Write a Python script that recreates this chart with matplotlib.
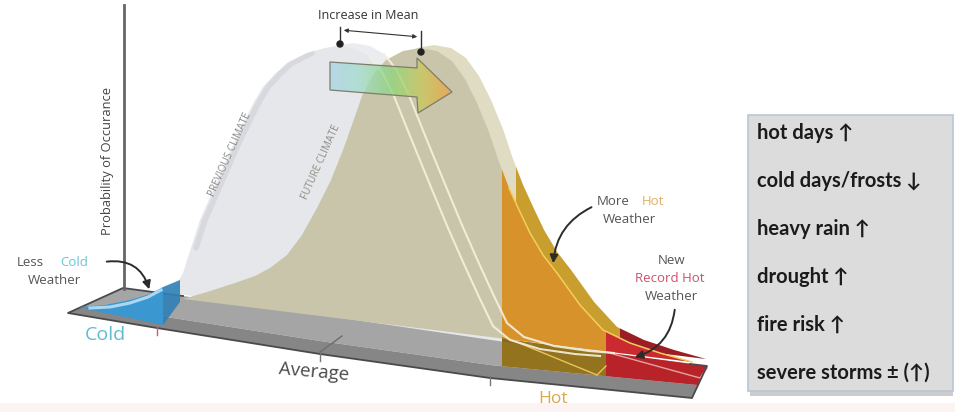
import numpy as np
import matplotlib
matplotlib.use("Agg")
from matplotlib import pyplot as plt
from matplotlib.patches import Polygon, Rectangle, FancyArrowPatch, Circle
from matplotlib.colors import LinearSegmentedColormap

W, H = 955, 412

# ---- outlines (pixel coords, x right / y down) ----
# previous climate, front edge of the bell
PREV_X = [165, 175, 183, 191, 200, 211, 222, 233, 245, 254, 263, 275, 287, 307, 325, 340,
          356, 370, 382, 394, 406, 419, 433, 448, 463, 479, 493, 510, 540, 575, 600]
PREV_Y = [292, 287, 273, 248, 220, 195, 170, 145, 120, 102, 87, 74, 63, 53, 48, 46,
          49, 57, 72, 96, 126, 158, 192, 228, 262, 297, 326, 340, 349, 354, 356]
PREV_PEAK = 16          # index where the right-hand (visible) edge starts

# future climate, front edge of the bell
FUT_X = [183, 207, 235, 255, 270, 287, 302, 317, 331, 343, 353, 362, 373, 386, 403, 420,
         437, 452, 465, 477, 489, 499, 509, 520, 530, 543, 557, 580, 603, 630, 660, 692]
FUT_Y = [299, 292, 283, 276, 268, 255, 235, 208, 180, 150, 122, 96, 75, 60, 51, 48,
         51, 61, 79, 103, 132, 162, 188, 212, 233, 255, 273, 305, 330, 343, 353, 362]

# temperature axis: thresholds on the floor
COLD_LIMIT = 163
HOT_LIMIT = 502
RECORD_LIMIT = 606
AXIS_LABELS = ["Cold", "Average", "Hot"]

# impacts listed in the box
IMPACTS = ["hot days \u2191", "cold days/frosts \u2193", "heavy rain \u2191",
           "drought \u2191", "fire risk \u2191", "severe storms \u00b1 (\u2191)"]

DEPTH = (14, -3)        # thickness of the bell "ribbons"

fig = plt.figure(figsize=(9.55, 4.12), dpi=100)
ax = fig.add_axes([0, 0, 1, 1])
ax.axis("off")
FONT = ["Open Sans", "DejaVu Sans"]

# faint strip at the bottom of the original picture
ax.add_patch(Rectangle((0, 403), W, 10, fc="#fcf3f3", ec="none"))

# ---- floor slab ----
floor_top = Polygon([(68, 313), (123, 288), (707, 366), (698, 385), (490, 365), (320, 341), (160, 316), (85, 306)],
                    closed=True, fc="#a5a5a5", ec="none", zorder=1)
ax.add_patch(floor_top)
ax.add_patch(Polygon([(68, 313), (157, 328), (320, 354), (490, 378), (692, 398), (698, 385),
                      (490, 365), (320, 341), (160, 316), (85, 306)],
                     closed=True, fc="#868686", ec="none", zorder=1))

# ---- previous climate ----
prev = list(zip(PREV_X, PREV_Y))
prev_back = [(x + DEPTH[0], y + DEPTH[1]) for x, y in prev]
ax.add_patch(Polygon(prev_back, closed=True, fc="#ebecef", ec="none", zorder=2))
prev_patch = Polygon(prev, closed=True, fc="#e6e7eb", ec="none", zorder=2)
ax.add_patch(prev_patch)
band, = ax.plot([x + 5 for x in PREV_X[3:PREV_PEAK - 2]], PREV_Y[3:PREV_PEAK - 2],
                color="#d8d9de", lw=4, solid_capstyle="round", zorder=2)
band.set_clip_path(prev_patch)

# ---- future climate ----
fut = list(zip(FUT_X, FUT_Y))
fut_back = [(x + DEPTH[0], y + DEPTH[1]) for x, y in fut]
fut_back_patch = Polygon(fut_back, closed=True, fc="#e0dcc4", ec="none", zorder=3)
ax.add_patch(fut_back_patch)
fut_patch = Polygon(fut, closed=True, fc="#c9c5aa", ec="none", zorder=3)
ax.add_patch(fut_patch)

# hot and record-hot tails (curve faces + tint on the floor)
for x0, x1, back_c, front_c, floor_c in [(HOT_LIMIT, RECORD_LIMIT, "#c89e2e", "#d8922c", "#94731f"),
                                          (RECORD_LIMIT, 720, "#9c1d24", "#cc2a31", "#b8232a")]:
    r = Rectangle((x0, 0), x1 - x0, H, fc=floor_c, ec="none", zorder=2)
    ax.add_patch(r)
    r.set_clip_path(floor_top)
    r = Rectangle((x0 + DEPTH[0], 0), x1 - x0, H, fc=back_c, ec="none", zorder=4)
    ax.add_patch(r)
    r.set_clip_path(fut_back_patch)
    r = Rectangle((x0, 0), x1 - x0, H, fc=front_c, ec="none", zorder=4)
    ax.add_patch(r)
    r.set_clip_path(fut_patch)
r = Rectangle((HOT_LIMIT, 0), RECORD_LIMIT - HOT_LIMIT, H, fc="#7d5c18", alpha=0.45, ec="none", zorder=4)
ax.add_patch(r)
r.set_clip_path(prev_patch)
hot_edge = [i for i, x in enumerate(FUT_X) if x >= HOT_LIMIT]
ax.plot([FUT_X[i] for i in hot_edge], [FUT_Y[i] for i in hot_edge], color="#f2cf5a", lw=1.1, zorder=5)
ax.plot([HOT_LIMIT, 597, 606], [336, 375, 366], color="#e9c55a", lw=1, zorder=5)
ax.plot([RECORD_LIMIT, 700, 707], [352, 378, 368], color="#e8a0a0", lw=1, zorder=5)

# previous-climate edges showing through
ax.plot(PREV_X[PREV_PEAK + 1:], PREV_Y[PREV_PEAK + 1:], color="#f6f1dc", lw=1.5, alpha=0.9, zorder=5)
ax.plot([x + DEPTH[0] for x in PREV_X[PREV_PEAK + 1:]], [y + DEPTH[1] for y in PREV_Y[PREV_PEAK + 1:]],
        color="#f6f1dc", lw=1.5, alpha=0.9, zorder=5)

# floor outline (back edge hidden by the curves)
ax.plot([183, 123, 68, 157, 320, 490, 692, 707, 690],
        [296, 288, 313, 328, 354, 378, 398, 366, 364], color="#4a4a4a", lw=1.3, zorder=6)

# ---- cold tail ----
ax.add_patch(Polygon([(80, 307), (105, 305), (130, 300), (150, 294), (COLD_LIMIT, 287),
                      (COLD_LIMIT, 325), (130, 318), (95, 311)],
                     closed=True, fc="#3b97cf", ec="none", zorder=6))
ax.plot([90, 110, 130, 148, 161], [308, 307, 303, 297, 290], color="#aad8f2", lw=2.2, zorder=6)
ax.add_patch(Polygon([(COLD_LIMIT, 287), (180, 280), (180, 302), (COLD_LIMIT, 325)],
                     closed=True, fc="#2f80b6", ec="none", alpha=0.9, zorder=6))

# ticks on the floor edge
for tx, ty, c in [(157, 328, "#c06080"), (320, 354, "#777777"), (490, 378, "#777777")]:
    ax.plot([tx, tx], [ty - 2, ty + 7], color=c, lw=1, zorder=7)
ax.plot([320, 342], [352, 336], color="#6e6e6e", lw=1, zorder=7)

# ---- vertical axis ----
ax.plot([124, 124], [5, 289], color="#666666", lw=2, zorder=6)
ax.text(107, 161, "Probability of Occurance", rotation=90, ha="center", va="center",
        fontsize=9.3, color="#444444", family=FONT)

# ---- increase in mean ----
arrow_pts = [(330, 62), (417, 68), (417, 58), (452, 92), (418, 113), (417, 97), (330, 90)]
arrow = Polygon(arrow_pts, closed=True, fc="none", ec="#7d7d6c", lw=0.9, zorder=9)
ax.add_patch(arrow)
cmap = LinearSegmentedColormap.from_list("warm", ["#a9d3e6", "#a2dcc8", "#8ed67e", "#c9c85e", "#f0a040"])
img = ax.imshow(np.linspace(0, 1, 256)[None, :], cmap=cmap, extent=(330, 452, 113, 57),
                aspect="auto", alpha=0.78, zorder=8)
img.set_clip_path(arrow)

ax.plot([340, 340], [27, 44], color="#333333", lw=1, zorder=9)
ax.plot([421, 421], [31, 52], color="#333333", lw=1, zorder=9)
ax.add_patch(Circle((340, 44), 3, color="#222222", zorder=10))
ax.add_patch(Circle((421, 52), 3, color="#222222", zorder=10))
ax.add_patch(FancyArrowPatch((341, 30), (420, 37), arrowstyle="<|-|>", mutation_scale=6,
                             color="#333333", lw=0.8, zorder=9))
ax.text(368, 15, "Increase in Mean", ha="center", va="center", fontsize=9, color="#333333", family=FONT)

# ---- rotated curve labels ----
ax.text(230, 155, "PREVIOUS CLIMATE", rotation=66, ha="center", va="center",
        fontsize=7.2, color="#8a8a8a", family=FONT, zorder=8)
ax.text(321, 162, "FUTURE CLIMATE", rotation=66, ha="center", va="center",
        fontsize=7.2, color="#8e8e86", family=FONT, zorder=8)

# ---- annotations ----
ax.text(17, 262, "Less", ha="left", va="center", fontsize=9.5, color="#555555", family=FONT)
ax.text(60, 262, "Cold", ha="left", va="center", fontsize=9.5, color="#6cc4d6", family=FONT)
ax.text(54, 281, "Weather", ha="center", va="center", fontsize=9.5, color="#555555", family=FONT)
ax.add_patch(FancyArrowPatch((104, 262), (150, 292), connectionstyle="arc3,rad=-0.45",
                             arrowstyle="-|>", mutation_scale=12, color="#2b2b2b", lw=1.4, zorder=10))

ax.text(597, 201, "More", ha="left", va="center", fontsize=9.5, color="#555555", family=FONT)
ax.text(642, 201, "Hot", ha="left", va="center", fontsize=9.5, color="#e0b060", family=FONT)
ax.text(629, 219, "Weather", ha="center", va="center", fontsize=9.5, color="#555555", family=FONT)
ax.add_patch(FancyArrowPatch((594, 206), (553, 266), connectionstyle="arc3,rad=0.3",
                             arrowstyle="-|>", mutation_scale=12, color="#2b2b2b", lw=1.4, zorder=10))

ax.text(672, 260, "New", ha="center", va="center", fontsize=9.5, color="#555555", family=FONT)
ax.text(670, 278, "Record Hot", ha="center", va="center", fontsize=9.5, color="#cf4e6a", family=FONT)
ax.text(671, 297, "Weather", ha="center", va="center", fontsize=9.5, color="#555555", family=FONT)
ax.add_patch(FancyArrowPatch((675, 307), (632, 358), connectionstyle="arc3,rad=-0.35",
                             arrowstyle="-|>", mutation_scale=12, color="#2b2b2b", lw=1.4, zorder=10))

# axis category labels
ax.text(105, 335, AXIS_LABELS[0], ha="center", va="center", fontsize=14, color="#5fbcd0", family=FONT)
ax.text(314, 372, AXIS_LABELS[1], ha="center", va="center", fontsize=13.5, color="#4a4a4a",
        rotation=-5, family=FONT)
ax.text(553, 399, AXIS_LABELS[2], ha="center", va="center", fontsize=12.5, color="#d9a848", family=FONT)

# ---- impacts box ----
ax.add_patch(Rectangle((750, 391), 203, 5, fc="#9a9a9a", ec="none", alpha=0.5, zorder=0))
ax.add_patch(Rectangle((748, 115), 205, 276, fc="#dcdcdc", ec="#b7c7d6", lw=1.2, zorder=1))
for i, txt in enumerate(IMPACTS):
    ax.text(757, 133 + i * 48, txt, ha="left", va="center", fontsize=14.5, fontweight="bold",
            color="#1b1b1b", family=["Lato", "DejaVu Sans"])

ax.set_xlim(0, W)
ax.set_ylim(H, 0)
fig.savefig("out.png", dpi=100)
